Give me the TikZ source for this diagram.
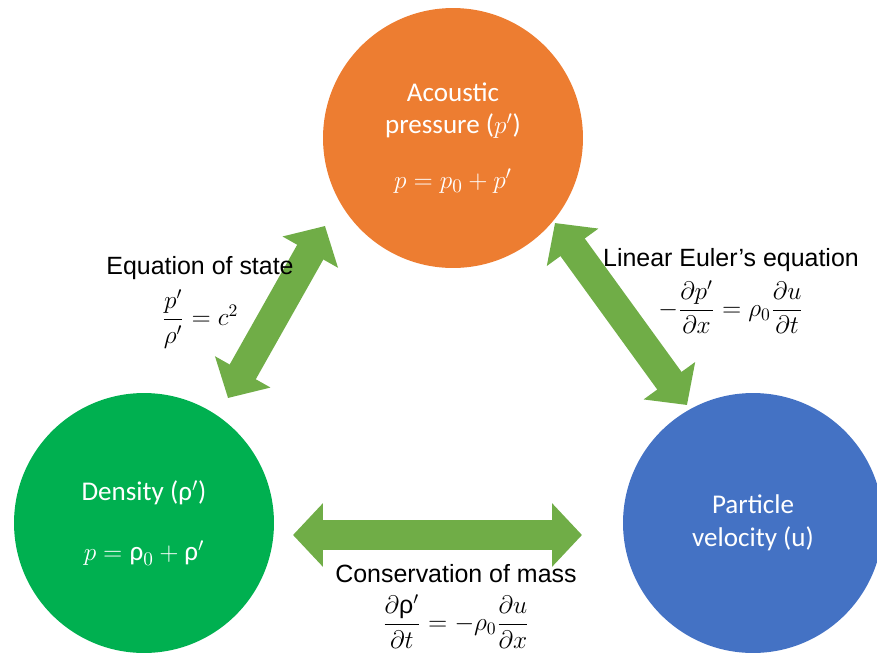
\documentclass[tikz,border=0pt]{standalone}
\usepackage{amsmath}
\usepackage{fontspec}
\usepackage{tikz}
\usetikzlibrary{arrows.meta}

\newfontfamily\calibrifont{Carlito}
\newfontfamily\arialfont{Liberation Sans}

\definecolor{accorange}{HTML}{ED7D31}
\definecolor{accgreen}{HTML}{00B050}
\definecolor{accblue}{HTML}{4472C4}
\definecolor{linkgreen}{HTML}{70AD47}

\begin{document}
\begin{tikzpicture}[x=0.02cm, y=-0.02cm,
    quantity/.style={circle, minimum size=5.2cm, inner sep=0pt, text=white, align=center,
        font=\calibrifont\fontsize{15.4}{18.5}\selectfont},
    relation/.style={align=center, font=\arialfont\fontsize{14.2}{17}\selectfont},
    link/.style={linkgreen, line width=0.6cm,
        {Triangle[length=0.6cm, width=1.24cm]}-{Triangle[length=0.6cm, width=1.24cm]}}]

\useasboundingbox (0, 0) rectangle (877, 657);
\clip (0, 0) rectangle (877, 657);

% the three quantities
\node[quantity, fill=accorange] (acoustic) at (453, 138) {Acoustic\\pressure ($p'$)\\[0.45cm]$p = p_0 + p'$};
\node[quantity, fill=accgreen] (density) at (144, 523) {Density (ρ$'$)\\[0.55cm]$p = \text{ρ}_0 + \text{ρ}'$};
\node[quantity, fill=accblue] (velocity) at (753, 523) {Particle\\velocity (u)};

% arrow ends
\coordinate (state-lo) at (228, 398);
\coordinate (state-hi) at (325, 226);
\coordinate (euler-hi) at (555, 223);
\coordinate (euler-lo) at (687, 405);
\coordinate (mass-l) at (293, 535);
\coordinate (mass-r) at (582, 535);

\draw[link] (state-lo) -- (state-hi);
\draw[link] (euler-hi) -- (euler-lo);
\draw[link] (mass-l) -- (mass-r);

% relations
\node[relation] (state) at (200, 302) {Equation of state\\[5pt]$\dfrac{p'}{\rho'} = c^2$};
\node[relation] (euler) at (731, 291) {Linear Euler’s equation\\[4pt]$-\dfrac{\partial p'}{\partial x} = \rho_0\dfrac{\partial u}{\partial t}$};
\node[relation] (mass) at (456, 606) {Conservation of mass\\[6pt]$\dfrac{\partial \text{ρ}'}{\partial t} = -\rho_0\dfrac{\partial u}{\partial x}$};
\end{tikzpicture}
\end{document}
